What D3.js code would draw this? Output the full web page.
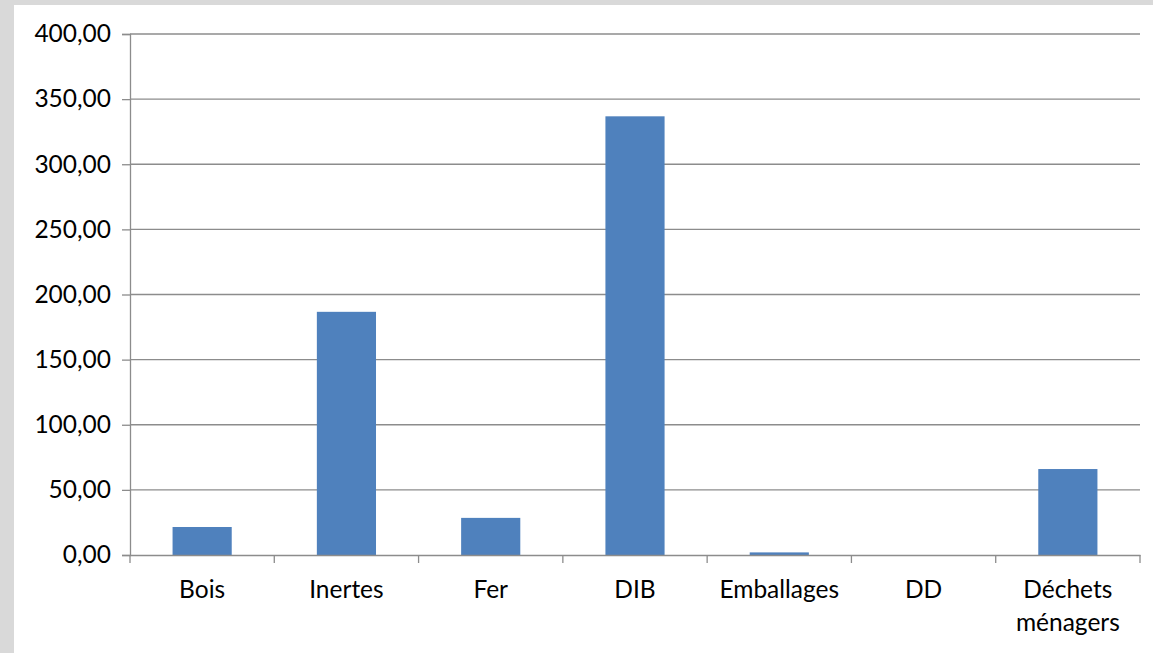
<!DOCTYPE html>
<html>
<head>
<meta charset="utf-8">
<script src="https://cdn.jsdelivr.net/npm/d3@7"></script>
<style>
  body { margin: 0; background: #fff; }
  svg { display: block; }
  .tick text { font-family: Lato, "Open Sans", sans-serif; fill: #000; }
</style>
</head>
<body>
<div id="chart"></div>
<script>
// data
var categories = ["Bois", "Inertes", "Fer", "DIB", "Emballages", "DD", "Déchets ménagers"];
var values = [21.5, 186.7, 28.5, 336.8, 2.0, 0.0, 66.0];
var yTicks = [0, 50, 100, 150, 200, 250, 300, 350, 400];

var W = 1153, H = 653;
var margin = {top: 34, right: 13, bottom: 98, left: 130},
    width = W - margin.left - margin.right,
    height = H - margin.top - margin.bottom;

var root = d3.select("#chart")
  .append("svg")
    .attr("width", W)
    .attr("height", H);

// grey frame on left and top
root.append("rect").attr("x", 0).attr("y", 0).attr("width", W).attr("height", 5).attr("fill", "#d9d9d9");
root.append("rect").attr("x", 0).attr("y", 0).attr("width", 14).attr("height", H).attr("fill", "#d9d9d9");

var svg = root.append("g")
    .attr("transform", "translate(" + margin.left + "," + margin.top + ")");

var x = d3.scaleBand()
    .domain(categories)
    .range([0, width]);

var y = d3.scaleLinear()
    .domain([0, 400])
    .range([height, 0]);

var fmt = function(v) { return d3.format(".2f")(v).replace(".", ","); };

// gridlines
svg.append("g")
  .selectAll("line")
  .data(yTicks.filter(function(d) { return d > 0; }))
  .enter()
  .append("line")
    .attr("x1", 0)
    .attr("x2", width)
    .attr("y1", function(d) { return y(d); })
    .attr("y2", function(d) { return y(d); })
    .attr("stroke", "#8c8c8c")
    .attr("stroke-width", 1.3);

// bars
var bw = x.bandwidth() * 0.41;
svg.selectAll("rect.bar")
  .data(values)
  .enter()
  .append("rect")
    .attr("class", "bar")
    .attr("x", function(d, i) { return x(categories[i]) + (x.bandwidth() - bw) / 2; })
    .attr("y", function(d) { return y(d); })
    .attr("width", bw)
    .attr("height", function(d) { return height - y(d); })
    .attr("fill", "#4f81bd");

// y axis
var yAxis = svg.append("g")
    .call(d3.axisLeft(y).tickValues(yTicks).tickFormat(fmt).tickSize(8).tickPadding(11));
yAxis.select(".domain").attr("stroke", "#8c8c8c").attr("stroke-width", 1.3);
yAxis.selectAll(".tick line").attr("stroke", "#8c8c8c").attr("stroke-width", 1.3);
yAxis.selectAll(".tick text").style("font-size", "24.5px");

// x axis, ticks at category boundaries
var xAxis = svg.append("g")
    .attr("transform", "translate(0," + height + ")")
    .call(d3.axisBottom(x).tickSize(0).tickPadding(0));
xAxis.select(".domain").attr("stroke", "#8c8c8c").attr("stroke-width", 1.3);
xAxis.selectAll(".tick text").remove();
xAxis.selectAll(".tick line").remove();

svg.append("g")
  .attr("transform", "translate(0," + height + ")")
  .selectAll("line")
  .data(categories.concat(["end"]))
  .enter()
  .append("line")
    .attr("x1", function(d, i) { return i * x.step(); })
    .attr("x2", function(d, i) { return i * x.step(); })
    .attr("y1", 0)
    .attr("y2", 8)
    .attr("stroke", "#8c8c8c")
    .attr("stroke-width", 1.3);

// category labels, wrapped like the original
var labels = svg.append("g")
  .attr("transform", "translate(0," + height + ")")
  .selectAll("text")
  .data(categories)
  .enter()
  .append("text")
    .attr("x", function(d) { return x(d) + x.bandwidth() / 2; })
    .attr("y", 43)
    .attr("text-anchor", "middle")
    .style("font-family", "Lato, 'Open Sans', sans-serif")
    .style("font-size", "24.5px");

labels.each(function(d) {
  var parts = d === "Déchets ménagers" ? ["Déchets", "ménagers"] : [d];
  var t = d3.select(this);
  parts.forEach(function(p, k) {
    t.append("tspan")
      .attr("x", x(d) + x.bandwidth() / 2)
      .attr("dy", k === 0 ? 0 : 33)
      .text(p);
  });
});
</script>
</body>
</html>
